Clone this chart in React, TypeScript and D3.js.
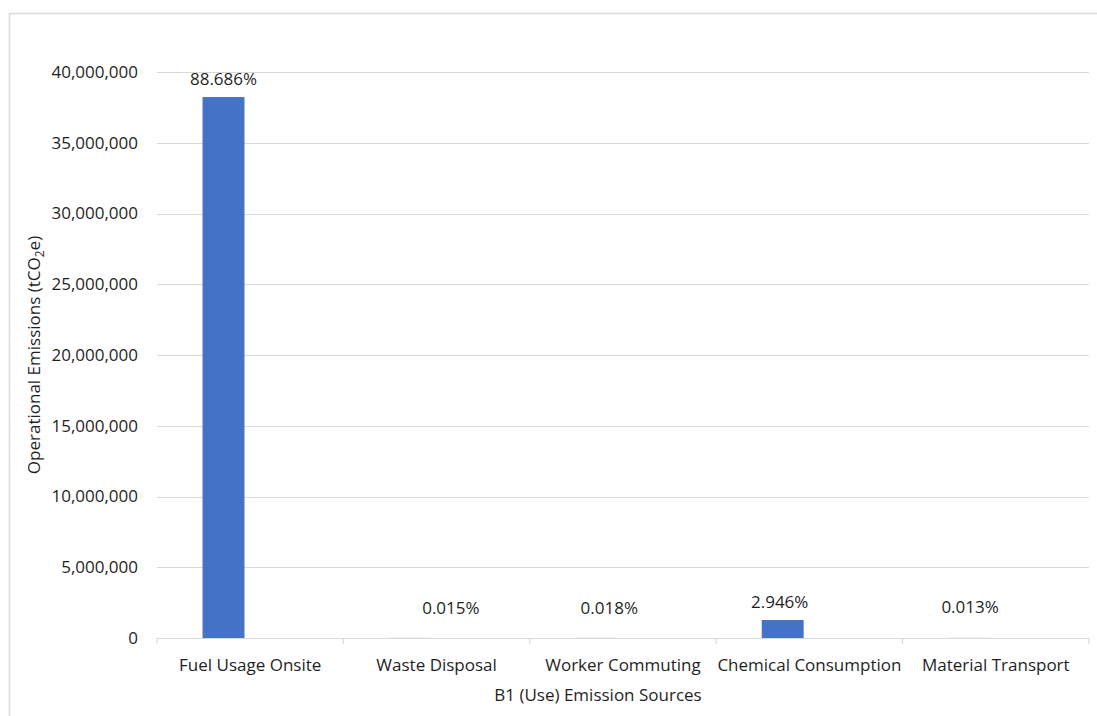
import React from "react";
import * as d3 from "d3";

const categories = ["Fuel Usage Onsite", "Waste Disposal", "Worker Commuting", "Chemical Consumption", "Material Transport"];
const emissions = [38230000, 6470, 7760, 1270000, 5600];
const percentLabels = ["88.686%", "0.015%", "0.018%", "2.946%", "0.013%"];
const yTicks = [0, 5000000, 10000000, 15000000, 20000000, 25000000, 30000000, 35000000, 40000000];
// label nudges relative to bar centre (layout only)
const labelDx = [0, 41, 13, -3, 1];
const labelDy = [-18, -30, -30, -18, -31];

const W = 1097, H = 716;
const plot = { left: 157, right: 1089, top: 72, bottom: 638 };
const FONT = "'Open Sans', sans-serif";
const FS = 17;
const TEXT = "#1f1f1f";
const GRID = "#d9d9d9";

export default function App() {
  const x = d3.scaleBand<string>().domain(categories).range([plot.left, plot.right]).paddingInner(0).paddingOuter(0);
  const y = d3.scaleLinear().domain([0, 40000000]).range([plot.bottom, plot.top]);
  const fmt = d3.format(",");
  const bw = x.bandwidth();
  const barW = bw * 0.225;
  const barOffset = -26.7 / 186.4 * bw;
  const boundaries = categories.map((c) => x(c)!).concat([plot.right]);

  return (
    <div style={{ position: "fixed", left: 0, top: 0 }}>
      <svg width={W} height={H} style={{ display: "block", background: "#fff" }}>
        <rect x={9.5} y={13.5} width={W + 10} height={H + 10} fill="#fff" stroke={GRID} strokeWidth={1.5} />
        {yTicks.map((t) => (
          <g key={t}>
            {t !== 0 && (
              <line x1={plot.left} x2={plot.right} y1={Math.round(y(t)) + 0.5} y2={Math.round(y(t)) + 0.5} stroke={GRID} strokeWidth={1.2} />
            )}
            <text x={138} y={y(t)} dy="0.35em" textAnchor="end" fontFamily={FONT} fontSize={FS} fill={TEXT}>
              {fmt(t)}
            </text>
          </g>
        ))}
        {categories.map((c, i) => {
          const cx = x(c)! + bw / 2 + barOffset;
          const top = y(emissions[i]);
          return (
            <g key={c}>
              <rect x={cx - barW / 2} y={top} width={barW} height={plot.bottom - top} fill="#4472C4" />
              <text x={cx + labelDx[i]} y={top + labelDy[i]} dy="0.35em" textAnchor="middle" fontFamily={FONT} fontSize={FS} fill={TEXT}>
                {percentLabels[i]}
              </text>
              <text x={x(c)! + bw / 2} y={665} dy="0.35em" textAnchor="middle" fontFamily={FONT} fontSize={FS} fill={TEXT}>
                {c}
              </text>
            </g>
          );
        })}
        <line x1={plot.left} x2={plot.right} y1={plot.bottom + 0.5} y2={plot.bottom + 0.5} stroke={GRID} strokeWidth={1.2} />
        {boundaries.map((b, i) => (
          <line key={i} x1={b} x2={b} y1={plot.bottom} y2={plot.bottom + 6} stroke={GRID} strokeWidth={1.2} />
        ))}
        <text x={598} y={695} dy="0.35em" textAnchor="middle" fontFamily={FONT} fontSize={FS} fill={TEXT}>
          B1 (Use) Emission Sources
        </text>
        <text transform={`translate(34,${(plot.top + plot.bottom) / 2}) rotate(-90)`} dy="0.35em" textAnchor="middle" fontFamily={FONT} fontSize={FS} fill={TEXT}>
          Operational Emissions (tCO<tspan fontSize={12} dy="4">2</tspan><tspan dy="-4">e)</tspan>
        </text>
      </svg>
    </div>
  );
}
